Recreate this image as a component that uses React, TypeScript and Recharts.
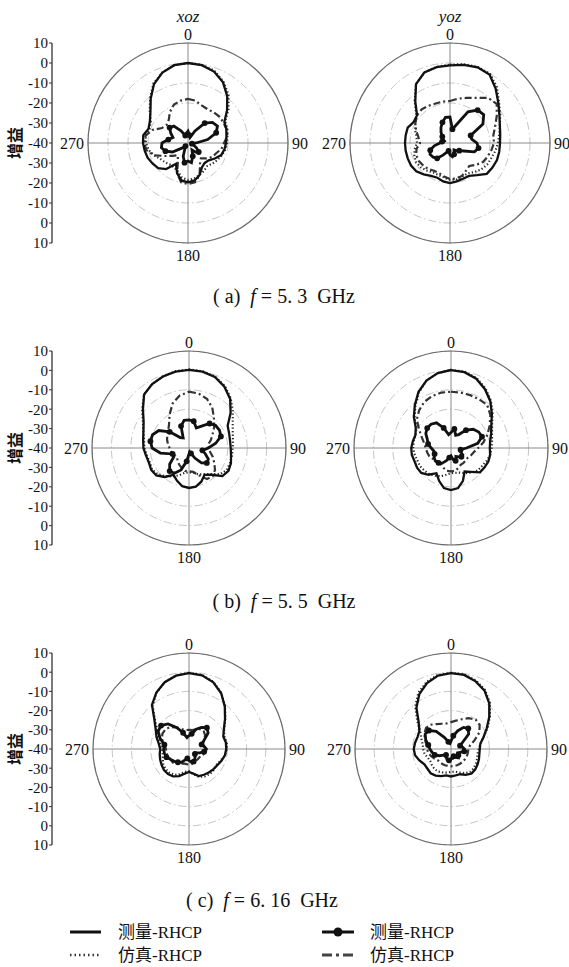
import React from 'react';
import {
  RadarChart,
  Radar,
  PolarGrid,
  PolarAngleAxis,
  PolarRadiusAxis,
  LineChart,
  Line,
  XAxis,
  YAxis,
} from 'recharts';

const SERIF = 'Liberation Serif, DejaVu Serif, serif';
const CJK = 'Noto Sans CJK SC, Noto Sans, sans-serif';

// angles in degrees, clockwise from top
const angles = [
  0, 10, 20, 30, 40, 50, 60, 70, 80, 90, 100, 110, 120, 130, 140, 150, 160, 170,
  180, 190, 200, 210, 220, 230, 240, 250, 260, 270, 280, 290, 300, 310, 320, 330, 340, 350,
];
const labeledAngles = [0, 90, 180, 270];
const gainDomain = [-40, 10];
const gridLevels = [-20, -10, 0, 10];
const gainTickLabels = ['10', '0', '-10', '-20', '-30', '-40', '-30', '-20', '-10', '0', '10'];
const planeTitles = ['xoz', 'yoz'];
const captionTags = ['( a)', '( b)', '( c)'];
const captionFreqs = ['5. 3', '5. 5', '6. 16'];
const legendNames = ['测量-RHCP', '仿真-RHCP', '测量-RHCP', '仿真-RHCP'];

// (a) f = 5.3 GHz
const aXozMeasCo = [0, -0.5, -2, -5, -9.5, -14.5, -19, -19.6, -20.5, -21, -21.5, -22.3, -24.5, -26.5, -27, -26, -23, -21, -20.3, -21, -24, -28, -23, -20.5, -19.5, -18.5, -18, -17.5, -17.3, -19, -18, -15.5, -11, -6, -2.5, -0.5];
const aXozSimCo = [0, -0.3, -1.5, -4.5, -8.5, -13.5, -18.5, -19, -20, -20.5, -21, -22, -23, -24, -25, -24, -23, -22, -21.5, -22.5, -25, -26, -26, -25, -24, -22, -20, -19, -18.5, -19.5, -18.5, -15, -10.5, -5.5, -2.5, -0.5];
const aXozMeasX = [-34, -36, -37, -33, -27, -24, -23, -25, -30, -36, -38, -37, -35, -33, -34, -36, -33, -30, -31, -30, -33, -37, -38, -36, -31, -28, -26.5, -27, -30, -32, -30, -28, -29, -33, -36, -35];
const aXozSimX = [-18, -18.5, -20, -20.5, -20, -19.5, -19.5, -19.5, -20, -22, -23, -25, -26, -28, -30, -28, -23, -20, -19.5, -20, -24, -30, -32, -30, -27, -22, -19, -18, -18.5, -21, -25, -26, -25, -22, -19.5, -18.5];

const aYozMeasCo = [-1.2, -0.3, 0.3, -0.5, -4.5, -8.5, -11.5, -13.5, -14.5, -15, -15, -15, -15.5, -16, -19, -21, -21, -20.5, -20, -20.5, -21.5, -21, -19.5, -18, -17.5, -17.5, -17.5, -17.5, -17.5, -17.5, -19, -18.5, -13, -6, -2.5, -1.5];
const aYozSimCo = [-0.8, 0, 0.5, 0, -3.5, -8, -11, -13.5, -15, -16, -17, -18, -18.5, -19.5, -21, -22.5, -22, -21.5, -21.5, -22.5, -23, -23, -22, -21, -20.5, -21, -22, -23.5, -23, -21.5, -20, -18, -12.5, -6, -2.5, -1.3];
const aYozMeasX = [-27, -33, -30, -22, -18.5, -18, -21, -29, -29, -26.5, -25.5, -27, -32, -34, -35, -36, -34, -33, -34, -36, -35, -33, -30, -29, -28.5, -29.5, -32, -35, -36, -37, -36, -35, -33, -31, -29, -27];
const aYozSimX = [-19, -17.5, -16, -14, -10.5, -9.5, -13, -16, -18, -18, -19, -20, -21, -23, -25, -24, -22.5, -22, -22, -23, -24, -24, -23, -22.5, -22, -22, -23, -25, -24, -22, -20, -18.5, -18, -18.5, -19, -19];

// (b) f = 5.5 GHz
const bXozMeasCo = [0.3, 0, -1, -3.5, -7, -12, -17, -18, -18.5, -18.5, -18, -17, -16.5, -17.5, -22, -24, -21.5, -19.8, -19.4, -20, -22, -24, -20.5, -18, -17.5, -18, -17.5, -16.5, -16, -15, -13, -9, -4, -2, -0.8, 0];
const bXozSimCo = [0.5, 0.2, -0.8, -3, -6.5, -10.5, -14, -16, -17, -17.5, -17.5, -17.5, -17.5, -19, -22.5, -24.5, -25.5, -27, -27.5, -27, -25, -23, -21, -19, -18, -18.5, -18, -17, -16.5, -15, -12.5, -8.5, -4, -2, -0.8, 0.2];
const bXozMeasX = [-25.5, -26, -29, -27, -23.5, -22, -21.8, -22.5, -26, -30, -33, -31, -28.5, -28, -30, -34, -37, -38, -37, -33, -28, -25, -24.5, -27, -31, -31, -25, -21, -19.8, -20, -22, -27, -33, -34, -28, -25.5];
const bXozSimX = [-11, -11.5, -13, -16, -20, -23, -26, -28, -30, -30, -29, -27, -25, -22.5, -21, -21.5, -25, -27.5, -28, -28, -29, -30, -31, -32, -32, -31, -30.5, -30, -29, -28, -27, -26, -24, -20, -15.5, -12.5];

const bYozMeasCo = [0.2, -0.3, -2, -5, -8.5, -12.5, -16, -18, -19.5, -20, -19.5, -19.5, -20, -20.5, -24, -26, -22, -19, -18.3, -19, -22, -25, -22, -20, -19.8, -20, -19.5, -19.5, -20, -20.5, -19, -15, -11, -6.5, -3, -0.8];
const bYozSimCo = [0.3, 0, -1.5, -4.5, -8, -12, -15.5, -17.5, -18.5, -19, -19.5, -20.5, -21.5, -22, -23.5, -25, -26.5, -27, -27, -26, -24.5, -23.5, -22.5, -22, -21.5, -21.5, -21, -20.5, -20.5, -20.5, -19.5, -15.5, -11.5, -7, -3, -0.8];
const bYozMeasX = [-32, -30, -33, -32, -28, -25, -23.5, -23, -26, -32, -35, -35, -33, -33, -34, -35, -33, -34, -36, -35, -33, -31, -30, -29.5, -30, -31, -31, -29.8, -28, -27, -25, -24, -24, -25, -29, -33];
const bYozSimX = [-11, -11, -11, -11, -11, -13.5, -17, -20, -23, -26, -28, -29, -30, -30, -30, -30, -29, -28, -28, -28, -29, -30, -30, -30, -29, -28, -27.5, -27, -26, -24, -21, -17, -14.5, -12.5, -11.5, -11];

// (c) f = 6.16 GHz
const cXozMeasCo = [-0.5, -1, -3, -6.5, -11, -15.5, -19, -21, -20.5, -20.6, -21, -22, -23, -23.5, -24, -24.5, -25, -27, -28, -27, -25, -23.5, -23, -23, -23.5, -24, -24.5, -25, -24, -22, -20, -16.5, -10, -6, -3, -1.2];
const cXozSimCo = [-0.3, -0.8, -2.8, -6.3, -10.8, -15.3, -18.8, -20.5, -20, -20.3, -21, -22.5, -23.5, -23, -23, -23.5, -24.5, -26.5, -28.5, -28, -26, -24.5, -24, -24, -24.5, -25.5, -26, -26, -25, -23, -21, -17, -10.5, -6.2, -3, -1];
const cXozMeasX = [-33, -32, -29, -27, -25.5, -27, -31, -33, -32, -31, -32, -34, -36, -36, -35, -34, -33, -33, -34, -35, -34, -32, -31, -30, -29, -27.5, -27, -26.8, -27, -24, -21.5, -21, -23, -27, -31, -34];
const cXozSimX = [-30, -30, -29, -28, -28, -29, -31, -32, -32, -31, -31, -32, -33, -33, -33, -33, -33, -32, -32, -32, -32, -31, -30, -29, -29, -28.5, -28, -28, -27, -25, -24, -24, -25, -27, -29, -30];

const cYozMeasCo = [-0.5, -0.8, -2.5, -5, -9, -14, -18.5, -22, -24.5, -25, -25, -24.5, -24, -23.5, -23.3, -24.5, -26, -26, -25.7, -26, -25, -24, -23.5, -24, -24, -22.5, -21, -20.6, -21, -21.5, -21, -18, -12, -7, -3.5, -1.2];
const cYozSimCo = [-0.3, -0.5, -2, -4.5, -8.5, -13.5, -18, -22, -24.5, -25.5, -26, -25.5, -25, -24.5, -24.5, -25.5, -27, -28, -28, -27.5, -27, -26.5, -26.5, -27, -27.5, -27, -26, -25.5, -25, -23.5, -21.5, -17, -11, -6, -2.8, -0.8];
const cYozMeasX = [-36, -33, -30, -27, -26, -28, -33, -35, -34, -33, -33, -35, -36, -35, -34, -35, -36, -35, -35, -34, -34, -35, -36, -35, -33, -31, -30, -29, -28, -26, -24.5, -25, -28, -33, -36, -37];
const cYozSimX = [-26, -25, -23.5, -21.5, -20, -20.5, -23, -27, -30, -31, -31, -31, -31, -31, -31, -31, -31, -31, -31, -31, -31, -31, -31, -31, -30, -29, -28, -27.5, -27, -25.5, -24, -23, -23.5, -25, -26, -26.5];

const buildRows = (measCo: number[], simCo: number[], measX: number[], simX: number[]) =>
  angles.map((angle, i) => ({
    angle,
    measCo: measCo[i],
    simCo: simCo[i],
    measX: measX[i],
    simX: simX[i],
  }));

const plots = [
  { rows: buildRows(aXozMeasCo, aXozSimCo, aXozMeasX, aXozSimX), x: 188, y: 143, r: 100, title: planeTitles[0] },
  { rows: buildRows(aYozMeasCo, aYozSimCo, aYozMeasX, aYozSimX), x: 450, y: 143, r: 100, title: planeTitles[1] },
  { rows: buildRows(bXozMeasCo, bXozSimCo, bXozMeasX, bXozSimX), x: 189, y: 448, r: 97 },
  { rows: buildRows(bYozMeasCo, bYozSimCo, bYozMeasX, bYozSimX), x: 451, y: 448, r: 97 },
  { rows: buildRows(cXozMeasCo, cXozSimCo, cXozMeasX, cXozSimX), x: 189, y: 749, r: 96 },
  { rows: buildRows(cYozMeasCo, cYozSimCo, cYozMeasX, cYozSimX), x: 451, y: 749, r: 96 },
];

const rowsLayout = [
  { y: 143, r: 100, captionX: 284, captionY: 296 },
  { y: 448, r: 97, captionX: 284, captionY: 601 },
  { y: 749, r: 96, captionX: 262, captionY: 900 },
];

const AngleTick = (props: any) => {
  const { x, y, payload } = props;
  const v = payload.value;
  if (!labeledAngles.includes(v)) return <g />;
  const anchor = v === 90 ? 'start' : v === 270 ? 'end' : 'middle';
  const dy = v === 0 ? 1 : v === 180 ? 14 : 5.5;
  return (
    <text x={x} y={y} dy={dy} textAnchor={anchor} style={{ fontFamily: SERIF, fontSize: 16 }} fill="#111">
      {v}
    </text>
  );
};

const markerDot = (p: any) =>
  p.index % 3 === 1 ? (
    <circle key={`m-${p.index}`} cx={p.cx} cy={p.cy} r={2.9} fill="#111" />
  ) : (
    <g key={`m-${p.index}`} />
  );

function PolarPlot({ rows, x, y, r, title }: any) {
  const w = 300;
  const h = 280;
  const cx = 150;
  const cy = 140;
  return (
    <div style={{ position: 'absolute', left: x - cx, top: y - cy, width: w, height: h }}>
      <RadarChart
        width={w}
        height={h}
        data={rows}
        cx={cx}
        cy={cy}
        outerRadius={r}
        margin={{ top: 0, right: 0, bottom: 0, left: 0 }}
      >
        <PolarGrid gridType="circle" radialLines={false} stroke="#c6c6c6" strokeDasharray="8 3 1.5 3" />
        <PolarGrid gridType="circle" polarAngles={labeledAngles} polarRadius={[]} stroke="#8a8a8a" />
        <PolarRadiusAxis type="number" domain={gainDomain} ticks={gridLevels} tick={false} axisLine={false} />
        <PolarAngleAxis
          dataKey="angle"
          axisLineType="circle"
          axisLine={{ stroke: '#6a6a6a', strokeWidth: 1.2 }}
          tickLine={false}
          tickSize={4}
          tick={AngleTick}
        />
        <Radar dataKey="simX" stroke="#333" strokeWidth={2.2} strokeDasharray="7 3 2 3" fill="none" fillOpacity={0} isAnimationActive={false} />
        <Radar dataKey="simCo" stroke="#2a2a2a" strokeWidth={2.1} strokeDasharray="1.3 2.2" fill="none" fillOpacity={0} isAnimationActive={false} />
        <Radar dataKey="measCo" stroke="#111" strokeWidth={2.3} fill="none" fillOpacity={0} isAnimationActive={false} />
        <Radar dataKey="measX" stroke="#111" strokeWidth={2.8} fill="none" fillOpacity={0} dot={markerDot} isAnimationActive={false} />
      </RadarChart>
      {title && (
        <div
          style={{
            position: 'absolute',
            left: cx - 30,
            top: cy - r - 36,
            width: 60,
            textAlign: 'center',
            fontFamily: SERIF,
            fontStyle: 'italic',
            fontSize: 17,
            lineHeight: '20px',
          }}
        >
          {title}
        </div>
      )}
    </div>
  );
}

const gainRows = gainTickLabels.map((_, i) => ({ i, v: i }));
const gainTickIdx = gainTickLabels.map((_, i) => i);

function GainAxis({ y, r }: any) {
  const pad = 10;
  return (
    <>
      <div style={{ position: 'absolute', left: 0, top: y - r - pad }}>
        <LineChart width={60} height={2 * r + 2 * pad} data={gainRows} margin={{ top: pad, bottom: pad, left: 0, right: 0 }}>
          <XAxis dataKey="i" hide />
          <YAxis
            type="number"
            domain={[0, 10]}
            ticks={gainTickIdx}
            interval={0}
            width={52}
            tickSize={3}
            tickMargin={1}
            axisLine={{ stroke: '#333', strokeWidth: 1.3 }}
            tickLine={{ stroke: '#333' }}
            tick={{ fontSize: 15, fontFamily: SERIF, fill: '#111' }}
            tickFormatter={(v: number) => gainTickLabels[10 - v]}
          />
          <Line dataKey="v" stroke="none" strokeOpacity={0} dot={false} activeDot={false} isAnimationActive={false} />
        </LineChart>
      </div>
      <div
        style={{
          position: 'absolute',
          left: -6,
          top: y - 11,
          width: 40,
          height: 22,
          lineHeight: '22px',
          textAlign: 'center',
          fontFamily: CJK,
          fontSize: 16,
          fontWeight: 700,
          transform: 'rotate(-90deg)',
        }}
      >
        增益
      </div>
    </>
  );
}

function Caption({ tag, freq, x, y }: any) {
  return (
    <div
      style={{
        position: 'absolute',
        left: x - 150,
        top: y - 12,
        width: 300,
        textAlign: 'center',
        fontFamily: SERIF,
        fontSize: 20,
        lineHeight: '24px',
        whiteSpace: 'pre',
      }}
    >
      {tag + '  '}
      <i>f</i>
      {' = ' + freq + '  GHz'}
    </div>
  );
}

function LegendBox() {
  const textStyle = { fontFamily: SERIF, fontSize: 17, fill: '#111' };
  return (
    <svg width={569} height={62} style={{ position: 'absolute', left: 0, top: 905 }}>
      <line x1={70} x2={101} y1={27} y2={27} stroke="#111" strokeWidth={3} />
      <text x={118} y={33} style={textStyle}>
        <tspan style={{ fontFamily: CJK }}>{legendNames[0].slice(0, 2)}</tspan>
        {legendNames[0].slice(2)}
      </text>
      <line x1={70} x2={101} y1={50} y2={50} stroke="#333" strokeWidth={2.4} strokeDasharray="1.5 3" />
      <text x={118} y={56} style={textStyle}>
        <tspan style={{ fontFamily: CJK }}>{legendNames[1].slice(0, 2)}</tspan>
        {legendNames[1].slice(2)}
      </text>
      <line x1={322} x2={354} y1={27} y2={27} stroke="#111" strokeWidth={3} />
      <circle cx={338} cy={27} r={4.5} fill="#111" />
      <text x={370} y={33} style={textStyle}>
        <tspan style={{ fontFamily: CJK }}>{legendNames[2].slice(0, 2)}</tspan>
        {legendNames[2].slice(2)}
      </text>
      <line x1={322} x2={354} y1={50} y2={50} stroke="#444" strokeWidth={3} strokeDasharray="10 4 3 4" />
      <text x={370} y={56} style={textStyle}>
        <tspan style={{ fontFamily: CJK }}>{legendNames[3].slice(0, 2)}</tspan>
        {legendNames[3].slice(2)}
      </text>
    </svg>
  );
}

export default function App() {
  return (
    <div
      style={{
        position: 'absolute',
        left: 0,
        top: 0,
        width: 569,
        height: 967,
        overflow: 'hidden',
        background: '#fff',
        color: '#111',
        fontFamily: SERIF,
      }}
    >
      {rowsLayout.map((row, i) => (
        <GainAxis key={`axis-${i}`} y={row.y} r={row.r} />
      ))}
      {plots.map((p, i) => (
        <PolarPlot key={`plot-${i}`} {...p} />
      ))}
      {rowsLayout.map((row, i) => (
        <Caption key={`cap-${i}`} tag={captionTags[i]} freq={captionFreqs[i]} x={row.captionX} y={row.captionY} />
      ))}
      <LegendBox />
    </div>
  );
}
